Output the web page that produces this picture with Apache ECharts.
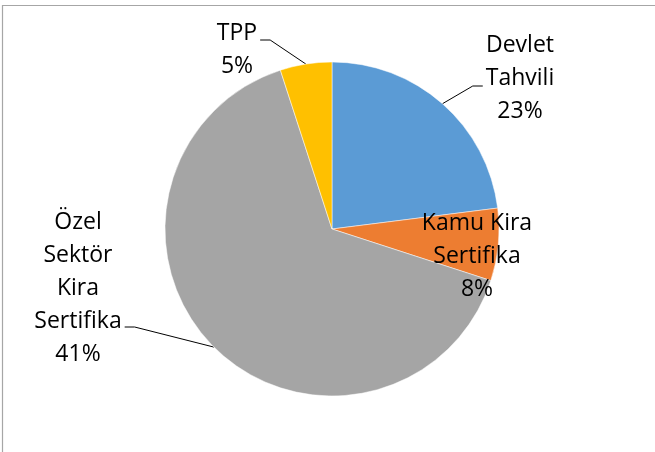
<!DOCTYPE html>
<html>
<head>
<meta charset="utf-8">
<script src="https://cdn.jsdelivr.net/npm/echarts@6/dist/echarts.min.js"></script>
<style>
    html, body { margin: 0; padding: 0; background: #fff; }
    #main { width: 655px; height: 452px; }
</style>
</head>
<body>
<div id="main"></div>
<script>
// data (slice sizes) and the label texts as printed
var categories = ['Devlet Tahvili', 'Kamu Kira Sertifika', 'Özel Sektör Kira Sertifika', 'TPP']
var labelNames = ['Devlet\nTahvili', 'Kamu Kira\nSertifika', 'Özel\nSektör\nKira\nSertifika', 'TPP']
var values = [23, 7, 65, 5]
var labelPercents = ['23%', '8%', '41%', '5%']
var colors = ['#5B9BD5', '#ED7D31', '#A5A5A5', '#FFC000']

// label anchor (centre of text block) and which side the leader line comes in from
var labelPos = [
    { x: 520, y: 78, side: 'left', lineY: 86 },
    { x: 477, y: 256, side: 'none' },
    { x: 78, y: 288, side: 'right', lineY: 327 },
    { x: 237, y: 50, side: 'right', lineY: 40 }
]

var myChart = echarts.init(document.getElementById('main'))

var pieData = categories.map(function(name, i) {
    return {
        name: name,
        value: values[i],
        itemStyle: { color: colors[i] },
        labelLine: { show: labelPos[i].side !== 'none' }
    }
})

var option = {
    animation: false,
    graphic: [
        { type: 'line', shape: { x1: 2, y1: 5.5, x2: 655, y2: 5.5 }, style: { stroke: '#A6A6A6', lineWidth: 1.2 } },
        { type: 'line', shape: { x1: 2.5, y1: 5, x2: 2.5, y2: 452 }, style: { stroke: '#A6A6A6', lineWidth: 1.2 } }
    ],
    series: [
        {
            type: 'pie',
            center: [332, 229],
            radius: 167,
            startAngle: 90,
            clockwise: true,
            avoidLabelOverlap: false,
            itemStyle: { borderColor: '#fff', borderWidth: 0.5 },
            label: {
                show: true,
                position: 'outside',
                fontFamily: '"Open Sans", "Noto Sans", sans-serif',
                fontSize: 23,
                lineHeight: 33,
                color: '#000',
                align: 'center',
                formatter: function(p) {
                    return labelNames[p.dataIndex] + '\n' + labelPercents[p.dataIndex]
                }
            },
            labelLine: {
                show: true,
                lineStyle: { color: '#000', width: 1 }
            },
            labelLayout: function(params) {
                var pos = labelPos[params.dataIndex]
                var res = { x: pos.x, y: pos.y, align: 'center', verticalAlign: 'middle' }
                var pts = params.labelLinePoints
                if (pts && pos.side !== 'none') {
                    var start = pts[0]
                    var half = params.labelRect.width / 2
                    var endX, elbowX
                    if (pos.side === 'left') {
                        endX = pos.x - half - 3
                        elbowX = endX - 10
                    } else {
                        endX = pos.x + half + 3
                        elbowX = endX + 10
                    }
                    res.labelLinePoints = [start, [elbowX, pos.lineY], [endX, pos.lineY]]
                }
                return res
            },
            data: pieData
        }
    ]
}

myChart.setOption(option)

window.addEventListener('resize', function() {
    myChart.resize()
})
</script>
</body>
</html>
